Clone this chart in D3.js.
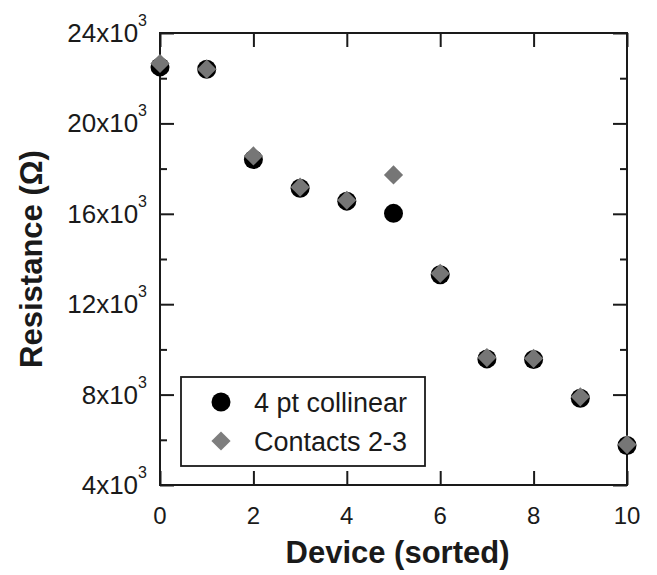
<!DOCTYPE html>
<html><head><meta charset="utf-8">
<script src="https://cdn.jsdelivr.net/npm/d3@7"></script>
<style>body{margin:0;background:#fff}svg{display:block}</style>
</head><body>
<svg id="c" width="657" height="575"></svg>
<script>
const devices = [0,1,2,3,4,5,6,7,8,9,10];
const collinear = [22500, 22400, 18400, 17130, 16560, 16020, 13300, 9580, 9550, 7840, 5750];
const contacts = [22650, 22400, 18560, 17180, 16600, 17720, 13360, 9640, 9600, 7900, 5790];
const xTicks = [0,2,4,6,8,10];
const yMajor = [4,8,12,16,20,24];
const yMinor = [6,10,14,18,22];
const seriesNames = ["4 pt collinear","Contacts 2-3"];

const svg = d3.select("#c");
const L=160,R=627,T=33,B=485;
const x = d3.scaleLinear().domain([0,10]).range([L,R]);
const y = d3.scaleLinear().domain([4000,24000]).range([B,T]);
const ink = "#1a1a1a";
const font = "'Liberation Sans', Arial, Helvetica, sans-serif";

const diamondType = {draw(ctx,size){const r=Math.sqrt(size/2);ctx.moveTo(0,-r);ctx.lineTo(r,0);ctx.lineTo(0,r);ctx.lineTo(-r,0);ctx.closePath();}};
const diamond = d3.symbol().type(diamondType).size(2*9.6*9.6)();
const circR = 9.5;

const maj=14, mnr=7;
const gL = svg.append("g").attr("transform",`translate(${L},0)`)
  .call(d3.axisLeft(y).tickValues(yMajor.map(v=>v*1000)).tickSize(-maj).tickFormat(""));
const gL2 = svg.append("g").attr("transform",`translate(${L},0)`)
  .call(d3.axisLeft(y).tickValues(yMinor.map(v=>v*1000)).tickSize(-mnr).tickFormat(""));
const gR = svg.append("g").attr("transform",`translate(${R},0)`)
  .call(d3.axisRight(y).tickValues(yMajor.map(v=>v*1000)).tickSize(-maj).tickFormat(""));
const gR2 = svg.append("g").attr("transform",`translate(${R},0)`)
  .call(d3.axisRight(y).tickValues(yMinor.map(v=>v*1000)).tickSize(-mnr).tickFormat(""));
const gB = svg.append("g").attr("transform",`translate(0,${B})`)
  .call(d3.axisBottom(x).tickValues(xTicks).tickSize(-maj).tickFormat(""));
const gT = svg.append("g").attr("transform",`translate(0,${T})`)
  .call(d3.axisTop(x).tickValues(xTicks).tickSize(-maj).tickFormat(""));
[gL,gL2,gR,gR2,gB,gT].forEach(g=>{
  g.select(".domain").remove();
  g.selectAll(".tick line").attr("stroke",ink).attr("stroke-width",2);
});
svg.append("rect").attr("x",L).attr("y",T).attr("width",R-L).attr("height",B-T)
  .attr("fill","none").attr("stroke",ink).attr("stroke-width",2);

svg.append("g").selectAll("text").data(xTicks).join("text")
  .attr("x",d=>x(d)).attr("y",B+39).attr("text-anchor","middle")
  .attr("font-family",font).attr("font-size",24).attr("fill",ink).text(d=>d);

const yl = svg.append("g").selectAll("text").data(yMajor).join("text")
  .attr("x",L-13).attr("y",d=>y(d*1000)+9).attr("text-anchor","end")
  .attr("font-family",font).attr("font-size",26).attr("fill",ink);
yl.append("tspan").text(d=>d+"x10");
yl.append("tspan").attr("dy",-16).attr("font-size",16).text("3");

svg.append("g").selectAll("circle").data(devices).join("circle")
  .attr("cx",d=>x(d)).attr("cy",(d,i)=>y(collinear[i])).attr("r",circR).attr("fill","#000");
svg.append("g").selectAll("path").data(devices).join("path")
  .attr("d",diamond).attr("transform",(d,i)=>`translate(${x(d)},${y(contacts[i])})`)
  .attr("fill","#767676");

const lg = svg.append("g");
lg.append("rect").attr("x",181).attr("y",377).attr("width",244).attr("height",89)
  .attr("fill","#fff").attr("stroke",ink).attr("stroke-width",1.8);
lg.append("circle").attr("cx",221).attr("cy",402).attr("r",circR).attr("fill","#000");
lg.append("path").attr("d",diamond).attr("transform","translate(221,441)").attr("fill","#7e7e7e");
lg.selectAll("text").data(seriesNames).join("text")
  .attr("x",254).attr("y",(d,i)=>[402,441][i]+10)
  .attr("font-family",font).attr("font-size",27).attr("fill",ink).text(d=>d);

svg.append("text").attr("x",(L+R)/2+4).attr("y",563).attr("text-anchor","middle")
  .attr("font-family",font).attr("font-weight","bold").attr("font-size",31).attr("fill",ink)
  .text("Device (sorted)");
svg.append("text").attr("transform",`translate(42,${(T+B)/2}) rotate(-90)`).attr("text-anchor","middle")
  .attr("font-family",font).attr("font-weight","bold").attr("font-size",31).attr("fill",ink)
  .text("Resistance (Ω)");
</script>
</body></html>
